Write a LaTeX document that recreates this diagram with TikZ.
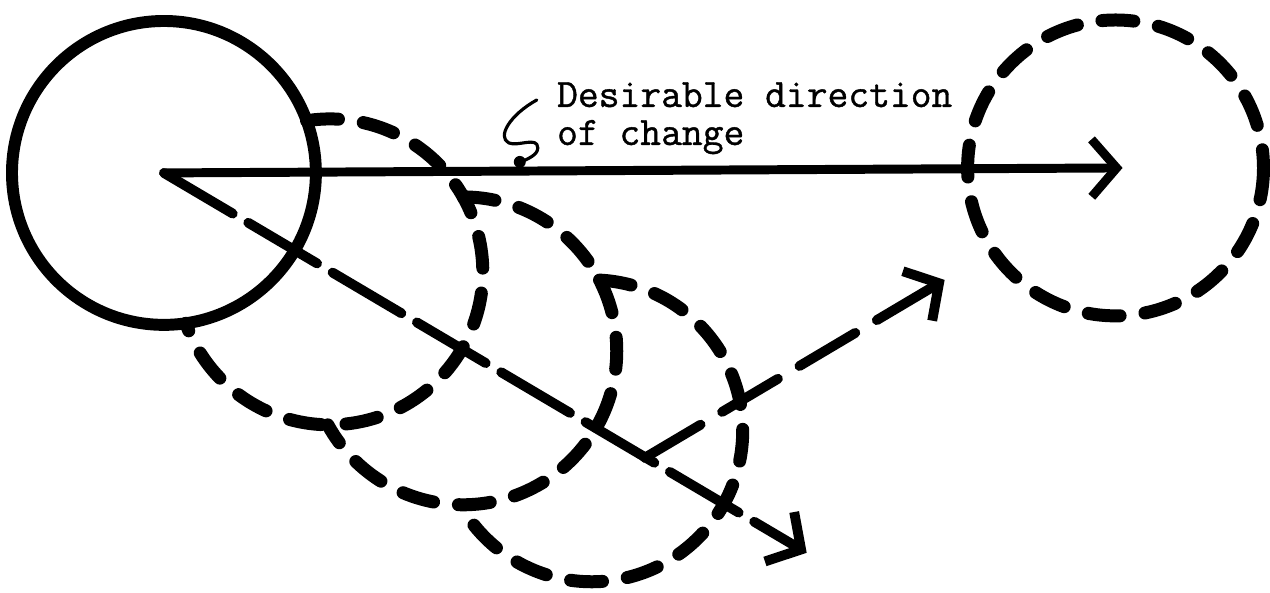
\documentclass[tikz,border=0pt]{standalone}
\usepackage{fontspec}
\newfontfamily\typewriter{Latin Modern Mono}[FakeBold=1]
\usetikzlibrary{arrows.meta}

\begin{document}
\begin{tikzpicture}[x=0.02cm, y=-0.02cm, line cap=round, line join=round,
    ring/.style={line width=6.8pt},
    dashring/.style={line width=7.4pt, dash pattern=on 0.64cm off 0.5cm},
    barb/.style={-{Straight Barb[length=0.5cm, width=1.15cm]}},
    words/.style={anchor=base west, inner sep=0pt,
      font=\typewriter\fontsize{23}{24}\selectfont}]
  % page of 1270 x 590 px, y runs downwards
  \fill[white] (0,0) rectangle (1270,590);
  % centres of the circles
  \coordinate (now)    at (164,173);
  \coordinate (drift1) at (330,272);
  \coordinate (drift2) at (463,351);
  \coordinate (drift3) at (592,431);
  \coordinate (goal)   at (1116,168);
  % arrow ends
  \coordinate (ahead)  at (1123,168);
  \coordinate (astray) at (807,553);
  \coordinate (turn)   at (645,458);
  \coordinate (back)   at (945,280);

  \draw[ring] (now) circle[radius=152];
  % each drifted circle only outside the one before it
  \draw[dashring] (drift1) ++(261.25:153) arc[start angle=261.25, end angle=520.35, radius=153];
  \draw[dashring] (drift2) ++(270.13:154) arc[start angle=270.13, end angle=511.27, radius=154];
  \draw[dashring] (drift3) ++(272.94:151) arc[start angle=272.94, end angle=510.66, radius=151];
  \draw[dashring] (goal) circle[radius=148];

  \draw[barb, line width=5.1pt] (now) -- (ahead);
  \draw[barb, line width=5.6pt, dash pattern=on 1.6cm off 0.36cm] (now) -- (astray);
  \draw[barb, line width=5.6pt, dash pattern=on 1.3cm off 0.5cm] (turn) -- (back);

  \node[words] (desire) at (557,107) {Desirable direction};
  \node[words] (change) at (557,145) {of change};

  % hand-drawn pointer to the arrow
  \draw[line width=1.8pt] (537,100) .. controls (510,115) and (497,137) .. (509,143)
    .. controls (518,147) and (538,136) .. (538,148)
    .. controls (538,155) and (528,159) .. (521,162);
  \fill (520,162) circle[radius=6];
\end{tikzpicture}
\end{document}
